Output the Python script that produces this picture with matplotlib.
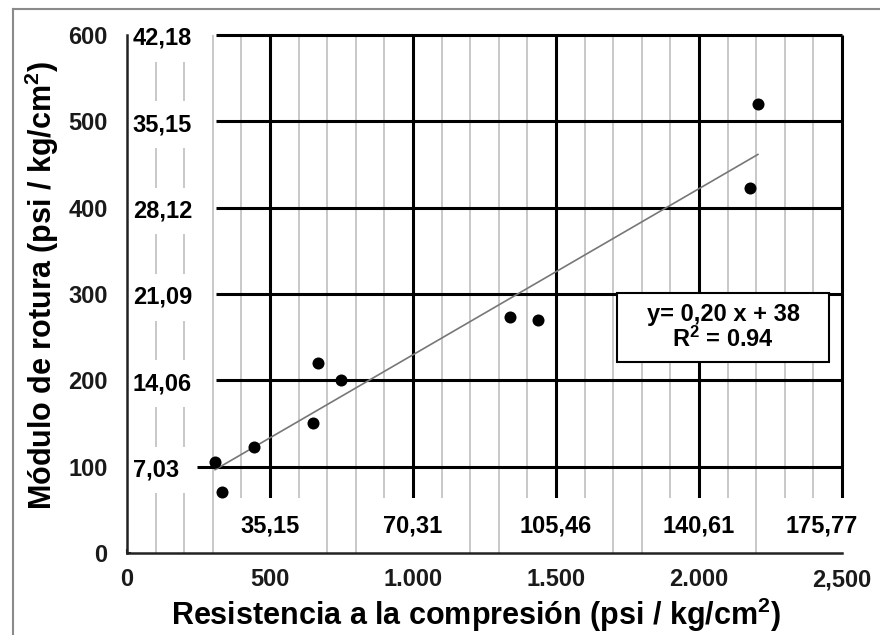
import numpy as np
import matplotlib.pyplot as plt
from matplotlib.patches import Rectangle
from matplotlib.lines import Line2D

plt.rcParams['font.family'] = ['Liberation Sans', 'DejaVu Sans']
plt.rcParams['font.weight'] = 'bold'
plt.rcParams['mathtext.fontset'] = 'custom'
plt.rcParams['mathtext.rm'] = 'Liberation Sans:bold'
plt.rcParams['mathtext.bf'] = 'Liberation Sans:bold'
plt.rcParams['mathtext.it'] = 'Liberation Sans:bold'

# datos (psi)
comp_psi = [308, 332, 444, 650, 668, 748, 1339, 1437, 2178, 2206]
rot_psi = [105, 71, 123, 151, 220, 200, 273, 270, 423, 520]

x_ticks = [0, 500, 1000, 1500, 2000, 2500]
x_ticklabels = ['0', '500', '1.000', '1.500', '2.000', '2,500']
y_ticks = [0, 100, 200, 300, 400, 500, 600]
y_ticklabels = ['0', '100', '200', '300', '400', '500', '600']

# etiquetas en kg/cm2
x_kg_pos = [500, 1000, 1500, 2000, 2500]
x_kg = ['35,15', '70,31', '105,46', '140,61', '175,77']
y_kg_pos = [100, 200, 300, 400, 500, 600]
y_kg = ['7,03', '14,06', '21,09', '28,12', '35,15', '42,18']

eq_text = 'y= 0,20 x + 38\nR$^{2}$ = 0.94'

fig = plt.figure(figsize=(8.8, 6.35), dpi=100)
ax = fig.add_axes([0.1443, 0.1291, 0.8125, 0.8158])
ax.set_xlim(0, 2500)
ax.set_ylim(0, 600)

# rejilla
minor_x = [v for v in range(100, 2500, 100) if v % 500 != 0]
ax.vlines(minor_x, 0, 600, color='#c8c8c8', lw=1.4, zorder=1, clip_on=False)
ax.vlines(x_kg_pos, 0, 600, color='black', lw=2.2, zorder=2, clip_on=False)
h_start = [245, 310, 310, 310, 310, 310]
ax.hlines(y_kg_pos, h_start, 2500, color='black', lw=2.2, zorder=2, clip_on=False)

# etiquetas kg/cm2 con fondo blanco
for i, (x, lab) in enumerate(zip(x_kg_pos, x_kg)):
    dx = -20 if i == len(x_kg) - 1 else 0
    ax.annotate(lab, (x, 31), xytext=(dx, 0), textcoords='offset pixels',
                ha='center', va='center', fontsize=17, zorder=3,
                bbox=dict(boxstyle='square,pad=0.7', fc='white', ec='none'))
for y, lab in zip(y_kg_pos, y_kg):
    ax.text(20, y - 4, lab, ha='left', va='center', fontsize=17, zorder=3,
            bbox=dict(boxstyle='square,pad=0.5', fc='white', ec='none'))

# puntos y tendencia
ax.scatter(comp_psi, rot_psi, s=75, color='black', zorder=4, linewidths=0)
k, b = np.polyfit(comp_psi, rot_psi, 1)
xs = np.array([min(comp_psi), max(comp_psi)])
ax.plot(xs, k * xs + b, color='#777777', lw=1.2, zorder=3.5)

# cuadro de la ecuación
ax.add_patch(Rectangle((0.685, 0.3687), 0.2965, 0.1332, transform=ax.transAxes,
                       fc='white', ec='black', lw=1.5, zorder=5))
ax.text(0.8336, 0.4353, eq_text, transform=ax.transAxes, ha='center', va='center',
        fontsize=17, linespacing=1.0, zorder=6)

for s in ['top', 'right']:
    ax.spines[s].set_visible(False)
for s in ['left', 'bottom']:
    ax.spines[s].set_color('#222222')
    ax.spines[s].set_linewidth(1.8)
    ax.spines[s].set_zorder(5)

ax.set_xticks(x_ticks)
ax.set_xticklabels(x_ticklabels)
ax.set_yticks(y_ticks)
ax.set_yticklabels(y_ticklabels)
ax.tick_params(axis='both', direction='in', length=3, width=1.5, color='#222222',
               labelsize=17, labelcolor='#1a1a1a')
ax.tick_params(axis='y', pad=14)
ax.tick_params(axis='x', pad=11)

fig.text(0.047, 0.55, 'Módulo de rotura (psi / kg/cm$^{2}$)', rotation=90,
         ha='center', va='center', fontsize=22)
fig.text(0.541, 0.002, 'Resistencia a la compresión (psi / kg/cm$^{2}$)',
         ha='center', va='bottom', fontsize=22)

# marco exterior
fig.add_artist(Line2D([13 / 880, 13 / 880], [0, 1 - 9 / 635], transform=fig.transFigure,
                      color='#8a8a8a', lw=1.5))
fig.add_artist(Line2D([13 / 880, 1], [1 - 9 / 635, 1 - 9 / 635], transform=fig.transFigure,
                      color='#8a8a8a', lw=1.5))

fig.savefig('out.png', dpi=100)
